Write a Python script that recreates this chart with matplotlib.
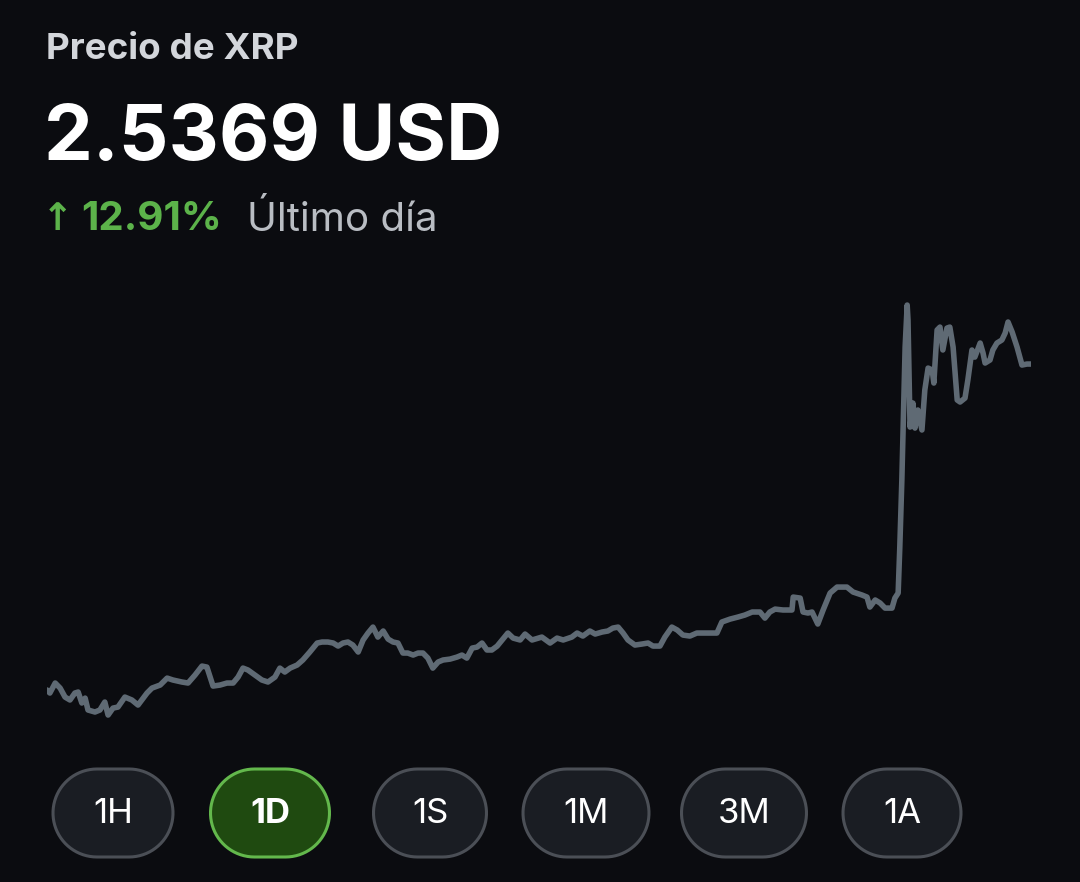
import matplotlib
matplotlib.use("Agg")
import matplotlib.pyplot as plt
import numpy as np
from matplotlib.patches import Polygon

# XRP price over the last day (hours since start, USD)
hours = [0.00, 0.07, 0.20, 0.32, 0.44, 0.56, 0.68, 0.76, 0.85, 0.93,
         1.00, 1.17, 1.29, 1.41, 1.49, 1.61, 1.73, 1.90, 2.07, 2.22,
         2.44, 2.56, 2.76, 2.93, 3.07, 3.29, 3.44, 3.61, 3.78, 3.90,
         3.98, 4.05, 4.22, 4.39, 4.54, 4.66, 4.78, 4.90, 5.07, 5.24,
         5.39, 5.56, 5.68, 5.80, 5.93, 6.10, 6.24, 6.41, 6.59, 6.71,
         6.85, 6.98, 7.10, 7.22, 7.34, 7.46, 7.59, 7.71, 7.83, 7.95,
         8.07, 8.20, 8.32, 8.44, 8.56, 8.68, 8.80, 8.93, 9.05, 9.17,
         9.29, 9.41, 9.54, 9.66, 9.83, 10.00, 10.12, 10.24, 10.37, 10.49,
         10.61, 10.73, 10.85, 10.98, 11.10, 11.24, 11.37, 11.54, 11.66, 11.83,
         12.07, 12.27, 12.44, 12.59, 12.80, 12.93, 13.07, 13.24, 13.37, 13.54,
         13.68, 13.80, 13.93, 14.05, 14.17, 14.34, 14.51, 14.66, 14.78, 14.95,
         15.07, 15.24, 15.37, 15.51, 15.68, 15.85, 16.10, 16.34, 16.46, 16.66,
         16.85, 17.02, 17.20, 17.39, 17.51, 17.63, 17.76, 17.95, 18.17, 18.20,
         18.37, 18.44, 18.56, 18.66, 18.80, 18.93, 19.10, 19.27, 19.51, 19.66,
         19.88, 20.00, 20.07, 20.20, 20.32, 20.44, 20.61, 20.68, 20.76, 20.80,
         20.85, 20.88, 20.93, 20.98, 21.00, 21.05, 21.12, 21.17, 21.24, 21.34,
         21.41, 21.49, 21.59, 21.63, 21.71, 21.78, 21.85, 21.95, 22.02, 22.10,
         22.20, 22.27, 22.39, 22.46, 22.56, 22.63, 22.76, 22.83, 22.88, 23.00,
         23.07, 23.17, 23.29, 23.37, 23.44, 23.54, 23.66, 23.78, 23.90, 24.00]
price = [2.2468, 2.2441, 2.2530, 2.2485, 2.2405, 2.2379, 2.2441, 2.2450, 2.2352, 2.2396,
         2.2290, 2.2272, 2.2290, 2.2361, 2.2245, 2.2307, 2.2316, 2.2405, 2.2379, 2.2334,
         2.2441, 2.2485, 2.2512, 2.2574, 2.2557, 2.2539, 2.2530, 2.2601, 2.2681, 2.2672,
         2.2583, 2.2503, 2.2512, 2.2530, 2.2530, 2.2583, 2.2663, 2.2646, 2.2601, 2.2557,
         2.2539, 2.2583, 2.2663, 2.2628, 2.2663, 2.2690, 2.2735, 2.2806, 2.2886, 2.2895,
         2.2895, 2.2886, 2.2859, 2.2886, 2.2895, 2.2868, 2.2806, 2.2913, 2.2975, 2.3028,
         2.2939, 2.2993, 2.2921, 2.2895, 2.2886, 2.2797, 2.2797, 2.2779, 2.2797, 2.2797,
         2.2752, 2.2663, 2.2717, 2.2735, 2.2743, 2.2761, 2.2779, 2.2752, 2.2841, 2.2850,
         2.2886, 2.2824, 2.2824, 2.2859, 2.2913, 2.2975, 2.2930, 2.2913, 2.2966, 2.2913,
         2.2939, 2.2886, 2.2930, 2.2913, 2.2939, 2.2975, 2.2948, 2.2993, 2.2966, 2.2984,
         2.2993, 2.3019, 2.3028, 2.2975, 2.2913, 2.2868, 2.2877, 2.2886, 2.2859, 2.2859,
         2.2939, 2.3028, 2.3002, 2.2957, 2.2948, 2.2975, 2.2975, 2.2975, 2.3073, 2.3099,
         2.3117, 2.3135, 2.3162, 2.3162, 2.3108, 2.3162, 2.3188, 2.3180, 2.3180, 2.3295,
         2.3286, 2.3162, 2.3153, 2.3162, 2.3055, 2.3180, 2.3331, 2.3384, 2.3384, 2.3340,
         2.3313, 2.3295, 2.3206, 2.3269, 2.3242, 2.3197, 2.3197, 2.3286, 2.3331, 2.3740,
         2.4337, 2.4782, 2.5520, 2.5894, 2.5761, 2.4808, 2.5022, 2.4799, 2.4960, 2.4782,
         2.5138, 2.5333, 2.5316, 2.5200, 2.5672, 2.5698, 2.5494, 2.5689, 2.5698, 2.5520,
         2.5049, 2.5031, 2.5066, 2.5227, 2.5494, 2.5431, 2.5556, 2.5467, 2.5378, 2.5405,
         2.5494, 2.5556, 2.5583, 2.5645, 2.5743, 2.5654, 2.5520, 2.5360, 2.5369, 2.5369]

title = "Precio de XRP"
current = "2.5369 USD"
change = "12.91%"
period_label = "Último día"
ranges = ["1H", "1D", "1S", "1M", "3M", "1A"]
selected = "1D"

bg = "#0b0c10"
fam = ["Inter", "DejaVu Sans"]

fig = plt.figure(figsize=(10.8, 8.82), dpi=100, facecolor=bg)

# price line
ax = fig.add_axes([47 / 1080, 1 - 740 / 882, 984 / 1080, 460 / 882])
ax.set_facecolor(bg)
ax.plot(hours, price, color="#5f6a74", lw=4.0, solid_joinstyle="round",
        solid_capstyle="round")
ax.set_xlim(0, 24)
ax.set_ylim(2.2023, 2.6117)
ax.axis("off")

# overlay in pixel coordinates for header and buttons
ov = fig.add_axes([0, 0, 1, 1], facecolor="none")
ov.set_xlim(0, 1080)
ov.set_ylim(882, 0)
ov.axis("off")

ov.text(46, 59, title, color="#d3d6db", fontsize=26.5, fontweight="bold",
        family=fam, va="baseline")
ov.text(44, 160, current, color="white", fontsize=56, fontweight="bold",
        family=fam, va="baseline")
ov.text(42, 230, "\u2191", color="#5cb34a", fontsize=27, fontweight="bold",
        family=["DejaVu Sans"], va="baseline")
ov.text(81, 230, change, color="#5cb34a", fontsize=29, fontweight="bold",
        family=fam, va="baseline")
ov.text(247, 231, period_label, color="#b9bdc3", fontsize=29,
        family=fam, va="baseline")


def pill(cx, cy, w, h):
    r = h / 2
    a1 = np.linspace(np.pi / 2, 3 * np.pi / 2, 40)
    a2 = np.linspace(-np.pi / 2, np.pi / 2, 40)
    left = np.c_[cx - w / 2 + r + r * np.cos(a1), cy + r * np.sin(a1)]
    right = np.c_[cx + w / 2 - r + r * np.cos(a2), cy + r * np.sin(a2)]
    return np.vstack([left, right])


centers = [113, 270, 430, 586, 744, 902]
widths = [120, 119, 113, 126, 125, 118]
h = 88
for lab, cx, w in zip(ranges, centers, widths):
    sel = lab == selected
    ov.add_patch(Polygon(pill(cx, 813, w, h), closed=True,
                         fc="#1f4a10" if sel else "#1a1d23",
                         ec="#63b84c" if sel else "#4b4f56", lw=2.2))
    ov.text(cx, 814, lab, color="white", fontsize=25,
            fontweight="bold" if sel else "normal", family=fam,
            ha="center", va="center")

fig.savefig("out.png", dpi=100, facecolor=bg)
